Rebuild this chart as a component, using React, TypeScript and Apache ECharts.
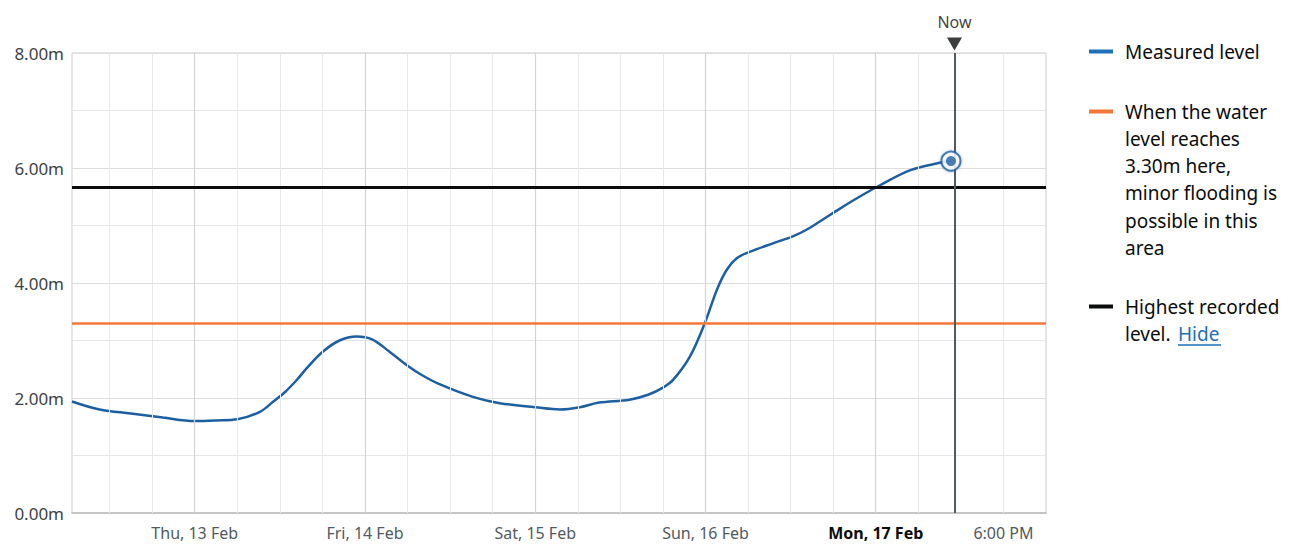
import React, { useEffect, useRef } from "react";
import * as echarts from "echarts";

// Hours relative to Thu 13 Feb 00:00
const HOURS = [
  -17.3, -13.4, -9, -4.5, 0, 3, 6, 9.2, 11, 12.7, 14.5, 15.8, 18, 20.4, 22.8, 25, 27.5, 29.9, 32, 34.5,
  39.2, 43, 48, 51.5, 54.3, 57, 61.3, 64, 66, 67.4, 69.8, 71.9, 73.6, 75, 76.4, 78.2, 81.5, 84.3, 86.3,
  88.5, 90.9, 93.7, 96.6, 100.8, 105, 106.6,
];
const LEVELS = [
  1.94, 1.8, 1.73, 1.66, 1.6, 1.61, 1.63, 1.76, 1.93, 2.1, 2.33, 2.52, 2.8, 3.0, 3.07, 3.02, 2.8, 2.57, 2.4, 2.24,
  2.02, 1.91, 1.84, 1.8, 1.84, 1.92, 1.97, 2.06, 2.18, 2.31, 2.72, 3.3, 3.88, 4.23, 4.43, 4.54, 4.69, 4.81, 4.93,
  5.1, 5.29, 5.5, 5.7, 5.96, 6.09, 6.12,
];
const MINOR_GRID_HOURS = [-12, -6, 6, 12, 18, 30, 36, 42, 54, 60, 66, 78, 84, 90, 102, 114];
const DAY_GRID_HOURS = [0, 24, 48, 72, 96];
const X_TICK_HOURS = [0, 24, 48, 72, 96, 114];
const X_TICK_LABELS = ["Thu, 13 Feb", "Fri, 14 Feb", "Sat, 15 Feb", "Sun, 16 Feb", "Mon, 17 Feb", "6:00 PM"];
const BOLD_LABEL = "Mon, 17 Feb";
const X_MIN = -17.3;
const X_MAX = 120;
const Y_MIN = 0;
const Y_MAX = 8;
const Y_INTERVAL = 2;
const FLOOD_THRESHOLD = 3.3;
const HIGHEST_RECORDED = 5.66;
const NOW_HOUR = 107.1;
const NOW_LABEL = "Now";
const LEGEND_MEASURED = ["Measured level"];
const LEGEND_THRESHOLD = [
  "When the water",
  "level reaches",
  `${FLOOD_THRESHOLD.toFixed(2)}m here,`,
  "minor flooding is",
  "possible in this",
  "area",
];
const LEGEND_HIGHEST = ["Highest recorded", "level."];
const LEGEND_HIDE = "Hide";

const BLUE = "#1d5fa3";
const LEGEND_BLUE = "#1d70b8";
const ORANGE = "#f47738";
const BLACK = "#0b0c0c";
const GREY_TEXT = "#505a5f";
const Y_TEXT = "#3d4246";
const FONT = '"Noto Sans"';

export default function App() {
  const ref = useRef<HTMLDivElement>(null);

  useEffect(() => {
    document.body.style.margin = "0";
    if (!ref.current) return;
    const chart = echarts.init(ref.current, undefined, { renderer: "svg" });
    const measured = HOURS.map((h, i) => [h, LEVELS[i]]);
    const last = measured[measured.length - 1];

    const vline = (hours: number[], color: string, width: number) => ({
      type: "line",
      data: [],
      z: 1,
      silent: true,
      markLine: {
        silent: true,
        symbol: ["none", "none"],
        label: { show: false },
        lineStyle: { color, width, type: "solid" },
        emphasis: { disabled: true },
        data: hours.map((h) => ({ xAxis: h })),
      },
    });

    const LINE_H = 27.3;
    const legendText = (lines: string[], firstY: number) =>
      lines.map((t, i) => ({
        type: "text",
        x: 1125,
        y: firstY + i * LINE_H,
        style: { text: t, font: `19px ${FONT}`, fill: BLACK, verticalAlign: "middle" },
      }));
    const marker = (cy: number, color: string) => ({
      type: "rect",
      left: 1089,
      top: cy - 2,
      shape: { width: 24, height: 4 },
      style: { fill: color },
    });

    chart.setOption({
      animation: false,
      grid: {
        left: 72,
        right: 254,
        top: 53,
        bottom: 32,
        show: true,
        borderColor: "#cdcdcd",
        borderWidth: 1,
      },
      xAxis: {
        type: "value",
        min: X_MIN,
        max: X_MAX,
        axisLine: { show: true, lineStyle: { color: "#c6c6c6", width: 2 } },
        axisTick: { show: false, customValues: X_TICK_HOURS },
        splitLine: { show: false },
        axisLabel: {
          customValues: X_TICK_HOURS,
          margin: 12,
          fontFamily: FONT,
          fontSize: 16,
          color: GREY_TEXT,
          formatter: (v: number) => {
            const idx = X_TICK_HOURS.findIndex((t) => Math.abs(t - v) < 1e-6);
            if (idx < 0) return "";
            const s = X_TICK_LABELS[idx];
            return s === BOLD_LABEL ? `{b|${s}}` : s;
          },
          rich: {
            b: { fontFamily: FONT, fontSize: 16, fontWeight: "bold", color: BLACK },
          },
        },
      },
      yAxis: {
        type: "value",
        min: Y_MIN,
        max: Y_MAX,
        interval: Y_INTERVAL,
        axisLine: { show: false },
        axisTick: { show: false },
        axisLabel: {
          formatter: (v: number) => `${v.toFixed(2)}m`,
          fontFamily: FONT,
          fontSize: 17,
          color: Y_TEXT,
          margin: 8,
        },
        splitLine: { show: true, lineStyle: { color: "#dedede", width: 1 } },
        minorTick: { show: false, splitNumber: 2 },
        minorSplitLine: { show: true, lineStyle: { color: "#e6e6e6", width: 1 } },
      },
      series: [
        vline(MINOR_GRID_HOURS, "#e8e8e8", 1),
        vline(DAY_GRID_HOURS, "#d4d4d4", 1.2),
        {
          name: "Flood threshold",
          type: "line",
          data: [],
          z: 2,
          markLine: {
            silent: true,
            symbol: ["none", "none"],
            label: { show: false },
            lineStyle: { color: ORANGE, width: 2.5, type: "solid" },
            data: [{ yAxis: FLOOD_THRESHOLD }],
          },
        },
        {
          name: "Highest recorded level",
          type: "line",
          data: [],
          z: 2,
          markLine: {
            silent: true,
            symbol: ["none", "none"],
            label: { show: false },
            lineStyle: { color: BLACK, width: 3, type: "solid" },
            data: [{ yAxis: HIGHEST_RECORDED }],
          },
        },
        {
          name: "Now line",
          type: "line",
          data: [],
          z: 3,
          markLine: {
            silent: true,
            symbol: ["none", "none"],
            label: { show: false },
            lineStyle: { color: "#505a5f", width: 2, type: "solid" },
            data: [{ xAxis: NOW_HOUR }],
          },
        },
        {
          name: LEGEND_MEASURED[0],
          type: "line",
          data: measured,
          smooth: 0.35,
          showSymbol: false,
          z: 4,
          lineStyle: { color: BLUE, width: 2.5 },
          itemStyle: { color: BLUE },
        },
        {
          type: "scatter",
          data: [last],
          z: 5,
          symbolSize: 19,
          itemStyle: {
            color: "#ffffff",
            borderColor: BLUE,
            borderWidth: 2,
            shadowBlur: 3,
            shadowColor: "rgba(29,95,163,0.5)",
          },
          silent: true,
        },
        {
          type: "scatter",
          data: [last],
          z: 6,
          symbolSize: 10,
          itemStyle: { color: BLUE },
          silent: true,
        },
        {
          type: "scatter",
          data: [[NOW_HOUR, Y_MAX]],
          z: 6,
          clip: false,
          symbol: "triangle",
          symbolRotate: 180,
          symbolSize: [15, 13],
          symbolOffset: [0, -9],
          itemStyle: { color: BLACK },
          silent: true,
        },
        {
          type: "scatter",
          data: [[NOW_HOUR, Y_MAX]],
          z: 6,
          clip: false,
          symbolSize: 1,
          itemStyle: { color: "rgba(0,0,0,0)" },
          silent: true,
          label: {
            show: true,
            position: "top",
            distance: 23,
            formatter: NOW_LABEL,
            fontFamily: FONT,
            fontSize: 16,
            color: BLACK,
          },
        },
      ],
      graphic: [
        marker(51.5, LEGEND_BLUE),
        ...legendText(LEGEND_MEASURED, 51.5),
        marker(111.5, ORANGE),
        ...legendText(LEGEND_THRESHOLD, 111.5),
        marker(306.5, BLACK),
        ...legendText(LEGEND_HIGHEST, 306.5),
        {
          type: "text",
          x: 1178,
          y: 306.5 + LINE_H,
          style: { text: LEGEND_HIDE, font: `19px ${FONT}`, fill: LEGEND_BLUE, verticalAlign: "middle" },
        },
        {
          type: "line",
          shape: { x1: 1178, y1: 345, x2: 1221, y2: 345 },
          style: { stroke: LEGEND_BLUE, lineWidth: 1.5 },
        },
      ],
    });

    return () => chart.dispose();
  }, []);

  return <div ref={ref} style={{ width: 1300, height: 545 }} />;
}
